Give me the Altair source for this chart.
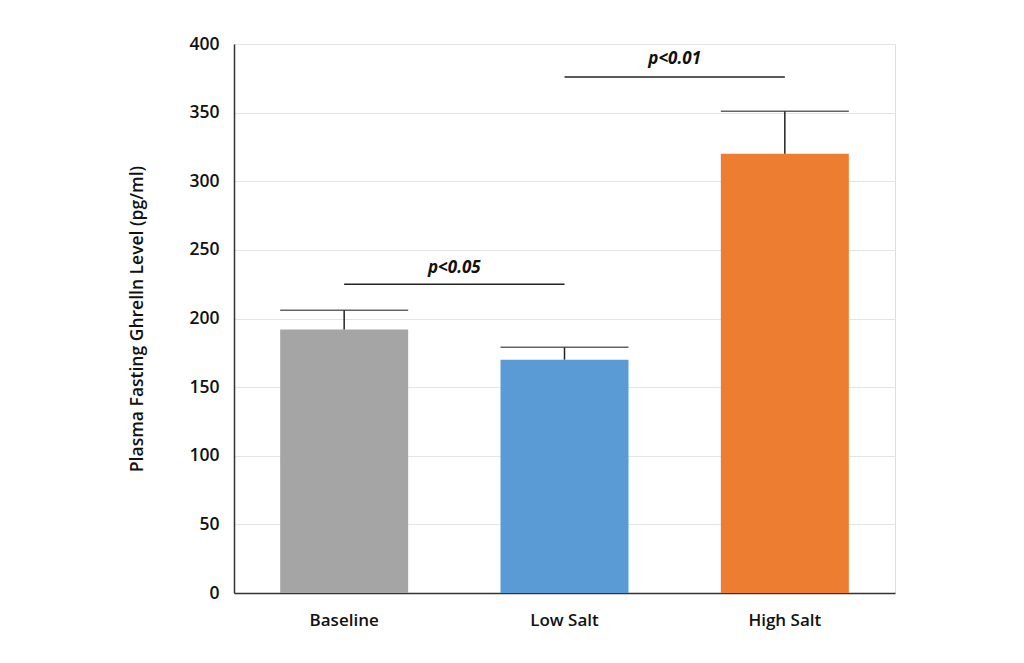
import altair as alt
import pandas as pd

categories = ["Baseline", "Low Salt", "High Salt"]
means = [192, 170, 320]
errors = [206, 179, 351]
colors = ["#a5a5a5", "#5b9bd5", "#ed7d31"]

sig_from = ["Baseline", "Low Salt"]
sig_to = ["Low Salt", "High Salt"]
sig_y = [225, 376]
sig_text_y = [237, 389]
sig_labels = ["p<0.05", "p<0.01"]

W, H = 661, 549
STEP = W / 3
BAR_W = 128
FONT = "Open Sans"

df = pd.DataFrame({"cat": categories, "mean": means, "err": errors})
sig = pd.DataFrame({"a": sig_from, "b": sig_to, "y": sig_y, "ty": sig_text_y, "label": sig_labels})

xscale = alt.Scale(domain=categories, paddingInner=0.42, paddingOuter=0.21)
x = alt.X("cat:N", title=None, scale=xscale,
          axis=alt.Axis(labelAngle=0, labelFont=FONT, labelFontSize=17, labelFontWeight=600,
                        labelColor="#111", labelPadding=19, ticks=False,
                        domainColor="#333", domainWidth=1.5, grid=False))
y = alt.Y("mean:Q", title="Plasma Fasting Ghrelln Level (pg/ml)",
          scale=alt.Scale(domain=[0, 400], nice=False),
          axis=alt.Axis(values=list(range(0, 401, 50)), labelFont=FONT, labelFontSize=17.5,
                        labelFontWeight=600, labelColor="#111", labelPadding=15, ticks=False,
                        domainColor="#333", domainWidth=1.5, gridColor="#e4e4e4",
                        titleFont=FONT, titleFontSize=17.5, titleFontWeight=600,
                        titleColor="#111", titlePadding=42))

bars = alt.Chart(df).mark_bar(width=BAR_W).encode(
    x=x, y=y,
    color=alt.Color("cat:N", scale=alt.Scale(domain=categories, range=colors), legend=None),
)
stems = alt.Chart(df).mark_rule(color="#222", strokeWidth=1.5).encode(
    x=alt.X("cat:N", scale=xscale), y="mean:Q", y2="err:Q")
caps = alt.Chart(df).mark_tick(color="#222", size=BAR_W, thickness=1.5).encode(
    x=alt.X("cat:N", scale=xscale), y="err:Q")

sig_lines = alt.Chart(sig).mark_rule(color="#222", strokeWidth=1.5).encode(
    x=alt.X("a:N", scale=xscale), x2="b:N", y="y:Q")
sig_txt = alt.Chart(sig).mark_text(font=FONT, fontSize=17, fontWeight="bold", fontStyle="italic",
                                   color="#111", dx=STEP / 2).encode(
    x=alt.X("a:N", scale=xscale), y="ty:Q", text="label:N")

chart = alt.layer(bars, stems, caps, sig_lines, sig_txt).properties(
    width=W, height=H, padding={"left": 120, "top": 27, "right": 10, "bottom": 10}
).configure_view(stroke=None).configure(background="white")

chart.save("out.html", embed_options={"renderer": "svg", "actions": False})
